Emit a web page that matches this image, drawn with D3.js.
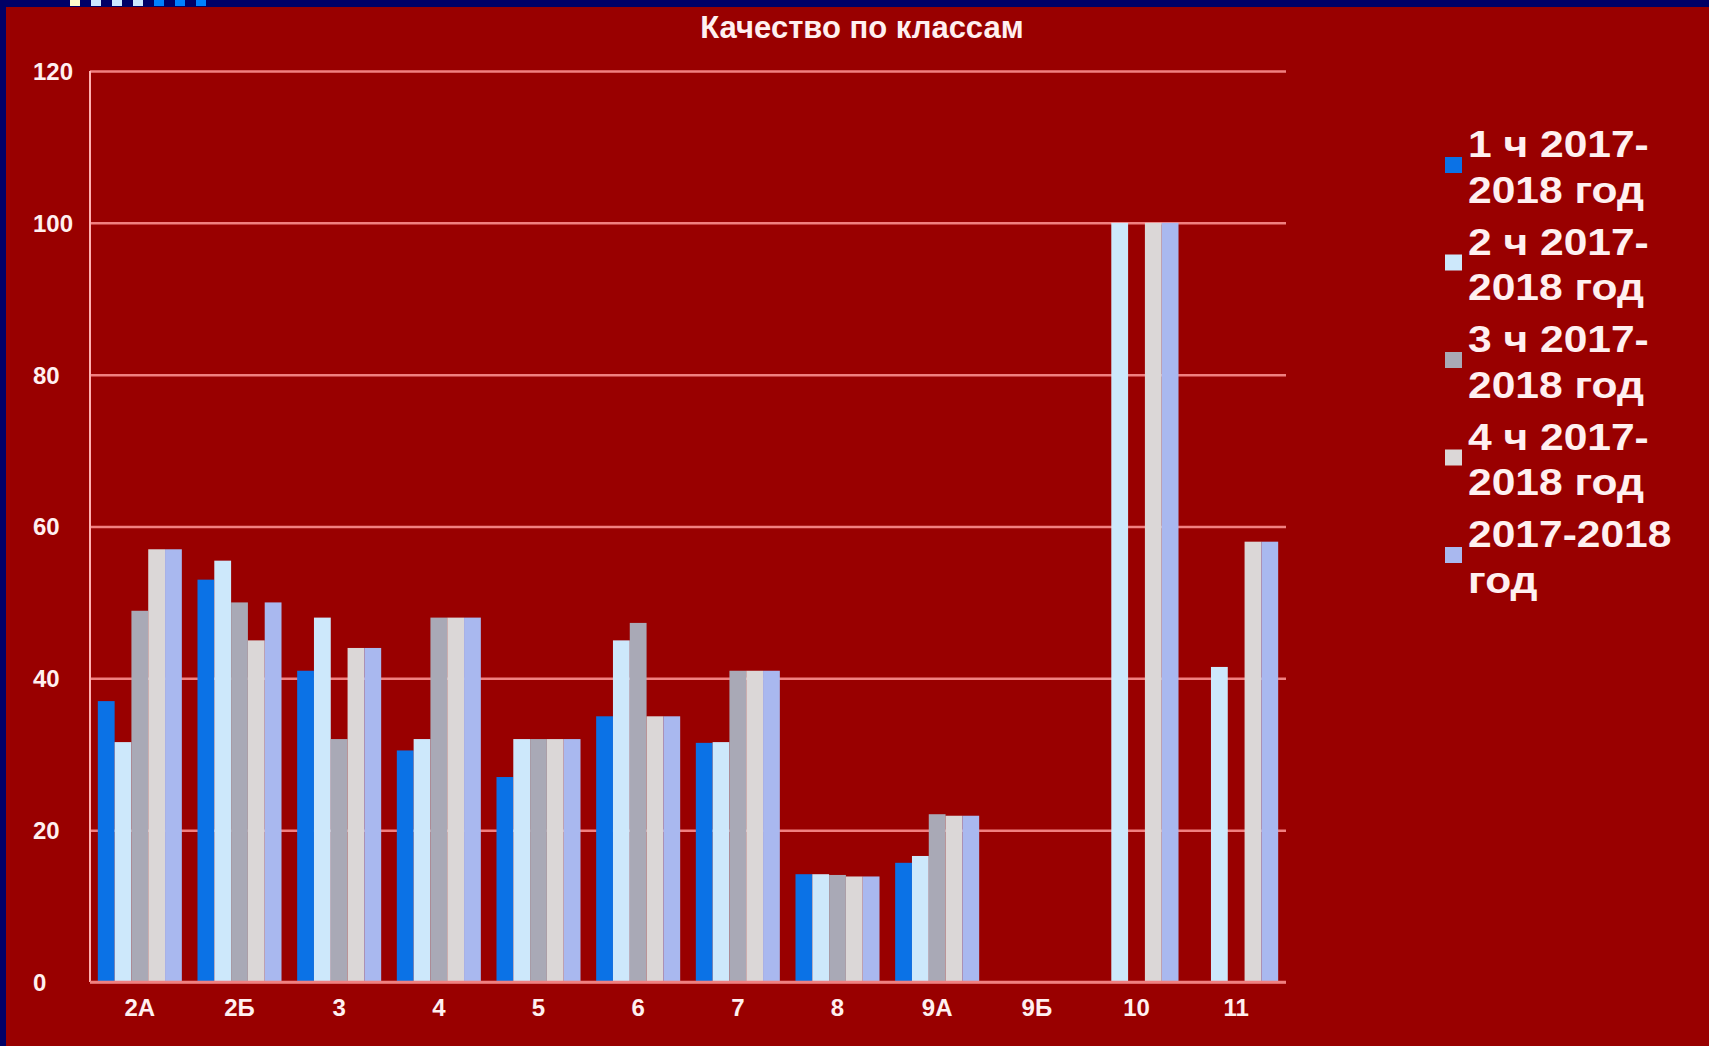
<!DOCTYPE html>
<html>
<head>
<meta charset="utf-8">
<script src="https://cdn.jsdelivr.net/npm/d3@7"></script>
<style>
	body { margin: 0; background: #990000; overflow: hidden; }
	text { font-family: "Liberation Sans", Arial, sans-serif; font-weight: bold; fill: #fff0f0; }
</style>
</head>
<body>
<script>
// классы
var classes = ["2А", "2Б", "3", "4", "5", "6", "7", "8", "9А", "9Б", "10", "11"]
// серии (легенда) - по две строки
var seriesNames = [
	["1 ч 2017-", "2018 год"],
	["2 ч 2017-", "2018 год"],
	["3 ч 2017-", "2018 год"],
	["4 ч 2017-", "2018 год"],
	["2017-2018", "год"]
]
var q1 = [37, 53, 41, 30.5, 27, 35, 31.5, 14.2, 15.7, 0, 0, 0]
var q2 = [31.6, 55.5, 48, 32, 32, 45, 31.6, 14.2, 16.6, 0, 100, 41.5]
var q3 = [48.9, 50, 32, 48, 32, 47.3, 41, 14.1, 22.1, 0, 0, 0]
var q4 = [57, 45, 44, 48, 32, 35, 41, 13.9, 21.9, 0, 100, 58]
var year = [57, 50, 44, 48, 32, 35, 41, 13.9, 21.9, 0, 100, 58]
var yTicks = [0, 20, 40, 60, 80, 100, 120]

var values = [q1, q2, q3, q4, year]
var colors = ["#0b72e6", "#cde8fb", "#a9a9b6", "#dbd7d7", "#a9b8ef"]

var W = 1709, H = 1046
// границы области построения (top нельзя - это window.top)
var pLeft = 90, pRight = 1286, pTop = 71, pBottom = 982

var svg = d3.select("body").append("svg")
	.attr("width", W)
	.attr("height", H)

svg.append("rect").attr("width", W).attr("height", H).attr("fill", "#990000")
// синяя рамка слева и сверху
svg.append("rect").attr("x", 0).attr("y", 0).attr("width", 6).attr("height", H).attr("fill", "#000066")
svg.append("rect").attr("x", 0).attr("y", 0).attr("width", W).attr("height", 7).attr("fill", "#000066")
// квадратики на верхней полосе
var deco = ["#ffffcc", "#cce8ff", "#cce8ff", "#cce8ff", "#0080ff", "#0080ff", "#0080ff"]
svg.selectAll(".deco").data(deco).enter().append("rect")
	.attr("x", function(d, i) { return 70 + i * 21 })
	.attr("y", 0)
	.attr("width", 10)
	.attr("height", 6)
	.attr("fill", function(d) { return d })

var x = d3.scaleBand().domain(classes).range([pLeft, pRight]).paddingInner(0.157).paddingOuter(0.0785)
var xs = d3.scaleBand().domain(d3.range(values.length)).range([0, x.bandwidth()])
var y = d3.scaleLinear().domain([0, 120]).range([pBottom, pTop])

// сетка + подписи оси Y
var yAxis = svg.append("g")
	.attr("transform", "translate(" + pLeft + ",0)")
	.call(d3.axisLeft(y).tickValues(yTicks).tickSize(-(pRight - pLeft)).tickFormat(d3.format("d")))
yAxis.select(".domain").remove()
yAxis.selectAll("line").attr("stroke", "#f08080").attr("stroke-width", 2.5)
yAxis.selectAll("text")
	.attr("x", 33 - pLeft)
	.attr("text-anchor", "start")
	.attr("dy", "0.35em")
	.style("font-size", "24px")

// вертикальная ось
svg.append("line")
	.attr("x1", pLeft).attr("x2", pLeft)
	.attr("y1", pTop).attr("y2", pBottom)
	.attr("stroke", "#ffb0b0").attr("stroke-width", 2)

// столбики
var groups = svg.selectAll(".grp").data(classes).enter().append("g")
	.attr("transform", function(d) { return "translate(" + x(d) + ",0)" })

groups.selectAll("rect")
	.data(function(d, i) { return values.map(function(s, k) { return { k: k, v: s[i] } }) })
	.enter().append("rect")
	.attr("x", function(d) { return xs(d.k) })
	.attr("width", xs.bandwidth())
	.attr("y", function(d) { return y(d.v) })
	.attr("height", function(d) { return pBottom - y(d.v) })
	.attr("fill", function(d) { return colors[d.k] })

// нулевая линия поверх столбиков
svg.append("line")
	.attr("x1", pLeft).attr("x2", pRight)
	.attr("y1", pBottom).attr("y2", pBottom)
	.attr("stroke", "#f08080").attr("stroke-width", 2.5)

// подписи классов
var xAxis = svg.append("g")
	.attr("transform", "translate(0," + pBottom + ")")
	.call(d3.axisBottom(x).tickSize(0))
xAxis.select(".domain").remove()
xAxis.selectAll("text")
	.attr("y", 26)
	.attr("dy", "0.35em")
	.style("font-size", "24px")

// заголовок
svg.append("text")
	.attr("x", 862)
	.attr("y", 38)
	.attr("text-anchor", "middle")
	.style("font-size", "31px")
	.text("Качество по классам")

// легенда
var legend = svg.selectAll(".leg").data(seriesNames).enter().append("g")
	.attr("transform", function(d, i) { return "translate(1445," + (157 + i * 97.5) + ")" })

legend.append("rect")
	.attr("x", 0)
	.attr("y", 0)
	.attr("width", 17)
	.attr("height", 16)
	.attr("fill", function(d, i) { return colors[i] })

// шрифт в оригинале шире - растягиваем по горизонтали
legend.append("text")
	.attr("transform", "translate(23,0) scale(1.15,1)")
	.style("font-size", "37px")
	.selectAll("tspan")
	.data(function(d) { return d })
	.enter().append("tspan")
	.attr("x", 0)
	.attr("y", function(d, i) { return i * 46 })
	.text(function(d) { return d })
</script>
</body>
</html>
